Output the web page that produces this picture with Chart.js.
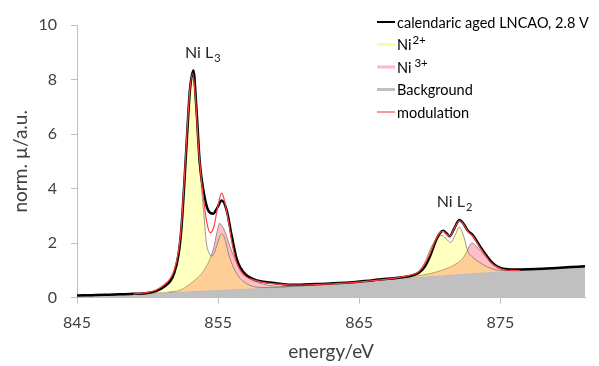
<!DOCTYPE html>
<html>
<head>
<meta charset="utf-8">
<script src="https://cdn.jsdelivr.net/npm/chart.js@4.4.1/dist/chart.umd.min.js"></script>
<style>
  body { margin: 0; background: #fff; }
</style>
</head>
<body>
<canvas id="myChart" width="599" height="366"></canvas>
<script>
// energies (eV) and values
const energyBg = [845, 850, 855, 860, 865, 870, 875, 881];
const background = [0.03, 0.16, 0.28, 0.40, 0.58, 0.78, 0.97, 1.11];

const energyData = [845, 846, 847, 848, 849, 850, 850.6, 851.2, 851.6, 851.9, 852.2, 852.4, 852.6, 852.8, 853.0, 853.25, 853.45, 853.7, 853.95, 854.3, 854.65, 854.95, 855.25, 855.6, 855.95, 856.3, 856.6, 857.0, 857.5, 858.0, 858.7, 859.5, 860.3, 862, 864.3, 866, 867, 868, 868.6, 869.2, 869.6, 870.0, 870.4, 870.7, 870.95, 871.2, 871.4, 871.7, 872.1, 872.4, 872.7, 873.0, 873.3, 873.6, 874.0, 874.3, 874.7, 875.2, 876, 877, 878, 879, 880, 881];
const measured = [0.08, 0.09, 0.10, 0.12, 0.14, 0.17, 0.24, 0.41, 0.60, 0.92, 1.6, 2.55, 4.15, 5.95, 7.6, 8.33, 7.05, 4.95, 3.95, 3.2, 3.08, 3.3, 3.56, 3.22, 2.3, 1.45, 1.08, 0.82, 0.68, 0.60, 0.55, 0.50, 0.47, 0.50, 0.55, 0.64, 0.69, 0.75, 0.79, 0.90, 1.1, 1.5, 2.05, 2.35, 2.45, 2.35, 2.25, 2.5, 2.85, 2.7, 2.45, 2.32, 2.1, 1.85, 1.55, 1.35, 1.17, 1.06, 1.03, 1.04, 1.06, 1.09, 1.12, 1.15];

const energyMod = [849, 850, 850.6, 851.2, 851.6, 851.9, 852.2, 852.4, 852.6, 852.8, 853.0, 853.2, 853.4, 853.6, 853.8, 854.0, 854.2, 854.45, 854.7, 855.0, 855.25, 855.5, 855.75, 856.0, 856.3, 856.6, 857.0, 857.5, 858, 859, 860.3, 862, 864, 866, 867, 868, 868.6, 869.2, 869.6, 870.0, 870.4, 870.7, 870.95, 871.2, 871.4, 871.7, 872.1, 872.4, 872.7, 873.0, 873.3, 873.6, 874.0, 874.3, 874.7, 875.2, 875.8, 876.4];
const modulation = [0.13, 0.19, 0.28, 0.48, 0.70, 1.02, 1.72, 2.68, 4.3, 6.1, 7.62, 8.22, 7.3, 5.6, 4.4, 3.5, 2.75, 2.38, 2.6, 3.4, 3.83, 3.45, 2.75, 1.95, 1.3, 0.98, 0.76, 0.65, 0.58, 0.50, 0.46, 0.48, 0.53, 0.62, 0.68, 0.76, 0.82, 0.95, 1.2, 1.6, 2.1, 2.38, 2.43, 2.32, 2.25, 2.5, 2.82, 2.68, 2.42, 2.28, 2.05, 1.8, 1.5, 1.3, 1.14, 1.03, 1.0, 0.99];

const energyNi2 = [849, 850, 850.6, 851.2, 851.6, 851.9, 852.2, 852.4, 852.6, 852.8, 853.0, 853.2, 853.4, 853.6, 853.83, 854.0, 854.17, 854.35, 854.53, 854.7, 854.9, 855.1, 855.25, 855.45, 855.8, 856.3, 857.0, 857.8, 858.5, 860, 865, 867, 868, 868.8, 869.3, 869.7, 870.1, 870.5, 870.85, 871.2, 871.48, 871.8, 872.1, 872.4, 872.7, 873.0, 873.5, 874.2, 875.0, 876.4];
const ni2 = [0.13, 0.17, 0.26, 0.44, 0.64, 0.95, 1.65, 2.6, 4.2, 6.0, 7.55, 8.15, 7.2, 5.5, 4.0, 3.0, 2.0, 1.65, 1.52, 1.6, 1.9, 2.22, 2.33, 2.2, 1.5, 0.89, 0.52, 0.38, 0.37, 0.40, 0.58, 0.66, 0.72, 0.84, 1.0, 1.35, 1.85, 2.15, 2.28, 2.14, 2.02, 2.3, 2.58, 2.25, 1.7, 1.5, 1.3, 1.1, 1.0, 1.0];

const energyNi3 = [851.5, 852.3, 852.8, 853.3, 853.8, 854.2, 854.5, 854.7, 854.9, 855.1, 855.3, 855.5, 855.7, 856.0, 856.3, 856.6, 857.0, 857.7, 858.5, 859.5, 861, 865, 867, 868.8, 870.0, 871.0, 871.8, 872.3, 872.6, 872.85, 873.0, 873.3, 873.6, 874.0, 874.5, 875.0, 875.6, 876.4];
const ni3 = [0.20, 0.27, 0.42, 0.62, 0.86, 1.18, 1.52, 1.85, 2.35, 2.72, 2.62, 2.4, 2.1, 1.65, 1.3, 1.0, 0.77, 0.58, 0.46, 0.41, 0.44, 0.58, 0.67, 0.77, 0.88, 1.03, 1.22, 1.42, 1.66, 1.93, 2.0, 1.88, 1.7, 1.5, 1.25, 1.1, 1.02, 1.0];

const xTicks = [845, 855, 865, 875];
const legendNames = ['calendaric aged LNCAO, 2.8 V', 'Ni', 'Ni', 'Background', 'modulation'];
const legendSup = ['', '2+', '3+', '', ''];

function pts(xs, ys) {
  return xs.map((x, i) => ({ x: x, y: ys[i] }));
}

const FONT = 'Lato, "Open Sans", sans-serif';
const ctx = document.getElementById('myChart');

const extras = {
  id: 'extras',
  afterDraw(chart) {
    const c = chart.ctx;
    const xs = chart.scales.x, ys = chart.scales.y;
    c.save();
    // peak labels
    c.fillStyle = '#262626';
    c.textBaseline = 'alphabetic';
    c.textAlign = 'left';
    [[852.65, 8.78, '3'], [870.49, 3.33, '2']].forEach(function (a) {
      const px = xs.getPixelForValue(a[0]);
      const py = ys.getPixelForValue(a[1]);
      c.font = '16px ' + FONT;
      c.fillText('Ni L', px, py);
      const w = c.measureText('Ni L').width;
      c.font = '11px ' + FONT;
      c.fillText(a[2], px + w + 1, py + 4);
    });
    // legend
    const cols = ['#000000', '#ffff99', '#ffb8c4', '#bfbfbf', '#ff5050'];
    const widths = [2, 3, 3, 3, 1.2];
    const rows = [22, 44.5, 67, 89.5, 112];
    for (let i = 0; i < legendNames.length; i++) {
      c.strokeStyle = cols[i];
      c.lineWidth = widths[i];
      c.beginPath();
      c.moveTo(377, rows[i]);
      c.lineTo(395, rows[i]);
      c.stroke();
      c.fillStyle = '#000';
      c.textBaseline = 'middle';
      c.font = '14.5px ' + FONT;
      c.fillText(legendNames[i], 397, rows[i] + 1);
      if (legendSup[i]) {
        const w = c.measureText(legendNames[i]).width;
        c.font = '11.5px ' + FONT;
        c.fillText(legendSup[i], 397 + w + (i === 2 ? 3 : 1), rows[i] - 4);
      }
    }
    c.restore();
  }
};

new Chart(ctx, {
  type: 'line',
  data: {
    datasets: [
      {
        label: 'modulation',
        data: pts(energyMod, modulation),
        borderColor: '#ff4040',
        borderWidth: 1.2,
        fill: false,
        order: 0
      },
      {
        label: 'calendaric aged LNCAO, 2.8 V',
        data: pts(energyData, measured),
        borderColor: '#000000',
        borderWidth: 2.5,
        fill: false,
        order: 1
      },
      {
        label: 'Ni2+',
        data: pts(energyNi2, ni2),
        borderColor: 'rgba(110,110,110,0.9)',
        borderWidth: 0.8,
        backgroundColor: 'rgba(255,255,0,0.25)',
        fill: { target: 4 },
        order: 3
      },
      {
        label: 'Ni3+',
        data: pts(energyNi3, ni3),
        borderColor: 'rgba(110,110,110,0.9)',
        borderWidth: 0.8,
        backgroundColor: '#ffbec8',
        fill: { target: 4 },
        order: 4
      },
      {
        label: 'Background',
        data: pts(energyBg, background),
        borderColor: '#b0b0b0',
        borderWidth: 0.8,
        backgroundColor: '#c0c0c0',
        fill: 'origin',
        tension: 0,
        cubicInterpolationMode: 'default',
        order: 5
      }
    ]
  },
  options: {
    responsive: false,
    animation: false,
    layout: { padding: { left: 0, right: 14, top: 25, bottom: 0 } },
    elements: {
      point: { radius: 0 },
      line: { cubicInterpolationMode: 'monotone' }
    },
    plugins: {
      legend: { display: false },
      tooltip: { enabled: false }
    },
    scales: {
      x: {
        type: 'linear',
        min: 845,
        max: 881,
        afterBuildTicks: function (scale) {
          scale.ticks = xTicks.map(v => ({ value: v }));
        },
        afterFit: function (scale) { scale.height = 68.4; },
        border: { display: true, color: '#bfbfbf', width: 1 },
        grid: { drawOnChartArea: false, drawTicks: true, tickLength: 6, color: '#bfbfbf' },
        ticks: { color: '#404040', font: { family: FONT, size: 16 }, padding: 10, maxRotation: 0 },
        title: { display: true, text: 'energy/eV', color: '#404040', font: { family: FONT, size: 19 }, padding: { top: 0, bottom: 3 } }
      },
      y: {
        min: 0,
        max: 10,
        afterFit: function (scale) { scale.width = 77; },
        border: { display: true, color: '#bfbfbf', width: 1 },
        grid: { drawOnChartArea: false, drawTicks: true, tickLength: 6, color: '#bfbfbf' },
        ticks: { stepSize: 2, color: '#404040', font: { family: FONT, size: 16 }, padding: 14 },
        title: { display: true, text: 'norm. µ/a.u.', color: '#404040', font: { family: FONT, size: 19 }, padding: { top: 9, bottom: 0 } }
      }
    }
  },
  plugins: [extras]
});
</script>
</body>
</html>
